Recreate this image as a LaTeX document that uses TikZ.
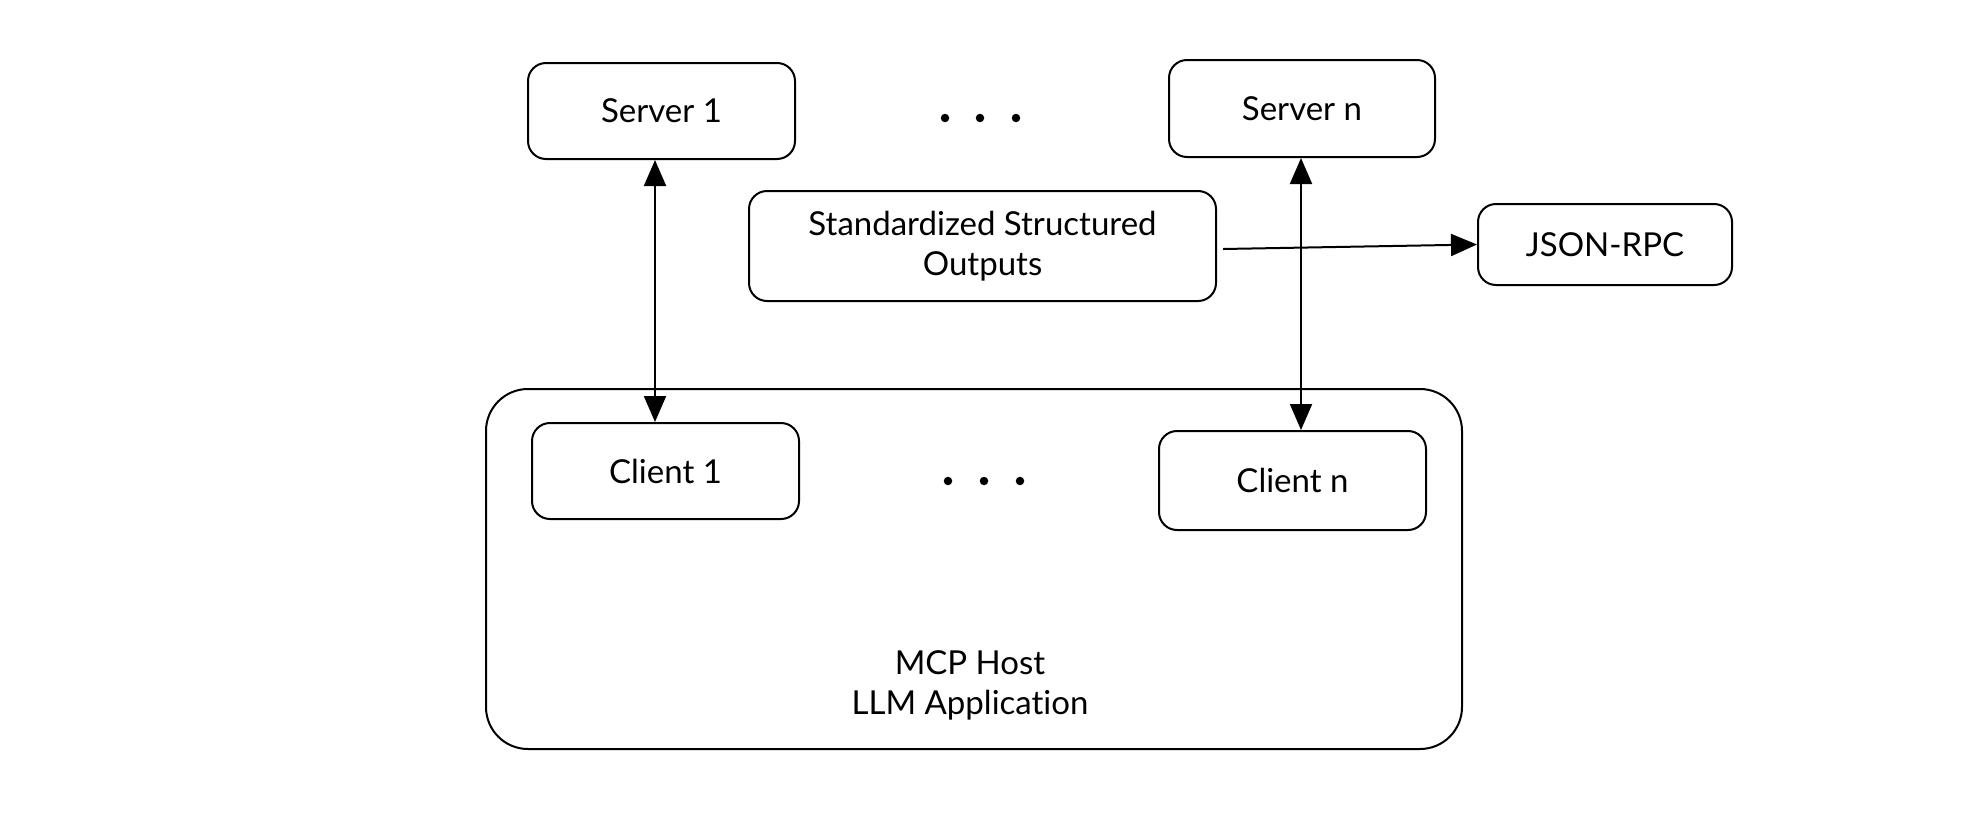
\documentclass[tikz,border=0pt]{standalone}
\usepackage{fontspec}
\setmainfont[Ligatures=NoCommon]{Lato}
\usetikzlibrary{arrows.meta}
\begin{document}
\begin{tikzpicture}[x=1pt,y=-1pt,
  box/.style={draw,line width=2pt,rounded corners=18pt,align=center,
    font=\fontsize{33}{40}\selectfont,inner sep=0pt},
  dotmark/.style={circle,fill=black,inner sep=0pt,minimum size=8.5pt},
  link/.style={line width=2pt,-{Triangle[length=26pt,width=22pt]}},
  biline/.style={line width=2pt,{Triangle[length=26pt,width=22pt]}-{Triangle[length=26pt,width=22pt]}}]
\useasboundingbox (0,0) rectangle (1975,817);

% MCP host container
\node[box,rounded corners=42pt,minimum width=976pt,minimum height=360pt] (host) at (974,569) {};
\node[font=\fontsize{33}{40}\selectfont,align=center] (hostlbl) at (970,685) {MCP Host\\LLM Application};

% servers
\node[box,minimum width=267pt,minimum height=96pt] (s1) at (661.5,111) {Server 1};
\node[box,minimum width=266pt,minimum height=97pt] (sn) at (1302,108.5) {Server n};

% clients
\node[box,minimum width=267pt,minimum height=96pt] (c1) at (665.5,471) {Client 1};
\node[box,minimum width=267pt,minimum height=99pt] (cn) at (1292.5,480.5) {Client n};

% protocol boxes
\node[box,minimum width=467pt,minimum height=110pt] (sso) at (982.5,246) {Standardized Structured\\Outputs};
\node[box,minimum width=254pt,minimum height=81pt] (json) at (1605,244.5) {JSON-RPC};

% ellipsis marks
\node[dotmark] (ta) at (945,118) {};
\node[dotmark] (tb) at (980,118) {};
\node[dotmark] (tc) at (1016,118) {};
\node[dotmark] (ba) at (948,481) {};
\node[dotmark] (bb) at (984,481) {};
\node[dotmark] (bc) at (1020,481) {};

% connections
\draw[biline] ([xshift=-6.5pt]s1.south) -- ([xshift=-10.5pt]c1.north);
\draw[biline] ([xshift=-1pt]sn.south) -- ([xshift=8.5pt]cn.north);
\draw[link] ([xshift=6pt,yshift=-3pt]sso.east) -- (json.west);
\end{tikzpicture}
\end{document}
